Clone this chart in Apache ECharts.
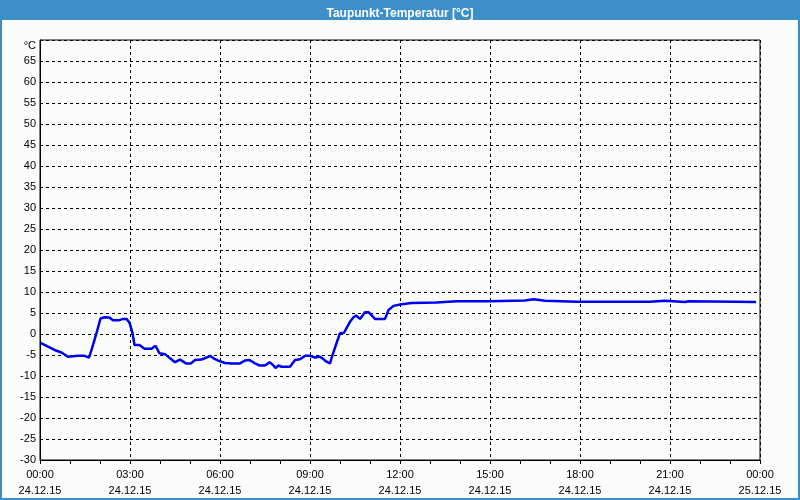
<!DOCTYPE html>
<html>
<head>
<meta charset="utf-8">
<script src="https://cdn.jsdelivr.net/npm/echarts@6/dist/echarts.min.js"></script>
<style>html,body{margin:0;padding:0;background:#fbfdfb;}#c{width:800px;height:500px;}</style>
</head>
<body>
<div id="c"></div>
<script>
var titleText = 'Taupunkt-Temperatur [°C]';
var times = ['00:01','00:16','00:29','00:43','00:56','01:16','01:29','01:38','01:43','01:53','02:01','02:09','02:19','02:26','02:39','02:46','02:53','02:59','03:05','03:09','03:19','03:29','03:43','03:51','03:59','04:10','04:20','04:30','04:40','04:52','05:02','05:10','05:23','05:33','05:40','05:50','06:00','06:10','06:23','06:40','06:50','06:59','07:10','07:19','07:30','07:39','07:47','07:51','07:57','08:03','08:20','08:30','08:40','08:50','09:00','09:10','09:19','09:25','09:33','09:40','09:45','09:53','10:00','10:08','10:13','10:20','10:27','10:32','10:40','10:50','10:57','11:10','11:30','11:37','11:47','12:00','12:23','13:13','13:53','15:00','16:10','16:27','16:50','17:53','20:20','20:23','20:50','20:53','21:30','21:37','21:41','23:52'];
var dewpoint = [-2.1,-3.0,-3.8,-4.4,-5.4,-5.2,-5.2,-5.6,-3.8,0.2,3.7,4.0,3.9,3.3,3.3,3.6,3.6,2.7,0.2,-2.6,-2.6,-3.5,-3.5,-2.8,-4.6,-4.8,-5.8,-6.7,-6.1,-7.0,-7.0,-6.2,-6.1,-5.6,-5.2,-6.0,-6.5,-6.9,-7.0,-7.0,-6.3,-6.2,-7.0,-7.5,-7.5,-6.7,-7.5,-8.1,-7.5,-7.8,-7.8,-6.2,-6.0,-5.2,-5.2,-5.6,-5.4,-5.8,-6.6,-7.0,-5.0,-2.2,0.2,0.3,1.4,2.9,4.0,4.4,3.6,5.2,5.2,3.6,3.6,5.7,6.7,7.0,7.4,7.5,7.8,7.8,8.0,8.3,7.9,7.7,7.7,7.9,7.9,7.6,7.6,7.8,7.6,7.6];
var tickHours = ['00:00','03:00','06:00','09:00','12:00','15:00','18:00','21:00','00:00'];
var tickDates = ['24.12.15','24.12.15','24.12.15','24.12.15','24.12.15','24.12.15','24.12.15','24.12.15','25.12.15'];
var unitLabel = '°C';

function toHours(s){var p=s.split(':');return (+p[0])+(+p[1])/60;}
var seriesData = times.map(function(t,i){return [toHours(t), dewpoint[i]];});

var chart = echarts.init(document.getElementById('c'), null, {renderer:'canvas'});
var font = 'Liberation Sans';
chart.setOption({
  backgroundColor: '#fbfdfb',
  animation: false,
  title: {
    text: titleText, left: 'center', top: 3, z: 10,
    textStyle: {color:'#ffffff', fontSize:12, fontWeight:'bold', fontFamily: font}
  },
  graphic: [
    {type:'rect', z: 1, shape:{x:0,y:0,width:800,height:20}, style:{fill:'#3c8fc7'}},
    {type:'rect', z: 1, shape:{x:1,y:1,width:798,height:498}, style:{fill:null, stroke:'#3c8fc7', lineWidth:2}}
  ],
  grid: {left:40, right:40, top:40, bottom:40, show:true, borderColor:'#000', borderWidth:1, backgroundColor:'transparent'},
  xAxis: {
    type:'value', min:0, max:24, interval:3,
    axisLine:{show:true, onZero:false, lineStyle:{color:'#000', width:1}},
    axisTick:{show:true, length:4, lineStyle:{color:'#000'}},
    minorTick:{show:true, splitNumber:3, length:4, lineStyle:{color:'#000'}},
    splitLine:{show:true, lineStyle:{color:'#000', type:[3,3], width:1}},
    axisLabel:{
      color:'#000', fontSize:11, fontFamily:font, lineHeight:16, margin:7,
      formatter:function(v){var i=Math.round(v/3);return tickHours[i]+'\n'+tickDates[i];}
    }
  },
  yAxis: {
    type:'value', min:-30, max:70, interval:5,
    axisLine:{show:true, onZero:false, lineStyle:{color:'#000', width:1}},
    axisTick:{show:false},
    splitLine:{show:true, lineStyle:{color:'#000', type:[3,3], width:1}},
    axisLabel:{
      color:'#000', fontSize:11, fontFamily:font, margin:4,
      formatter:function(v){return v===70 ? '{u|'+unitLabel+'}' : String(v);},
      rich:{u:{fontSize:11, fontFamily:font, color:'#000', padding:[12,0,0,0]}}
    }
  },
  series: [{
    type:'line', data: seriesData, showSymbol:false, smooth:false,
    lineStyle:{color:'#0000f0', width:2.5}, itemStyle:{color:'#0000f0'}
  }]
});
</script>
</body>
</html>
